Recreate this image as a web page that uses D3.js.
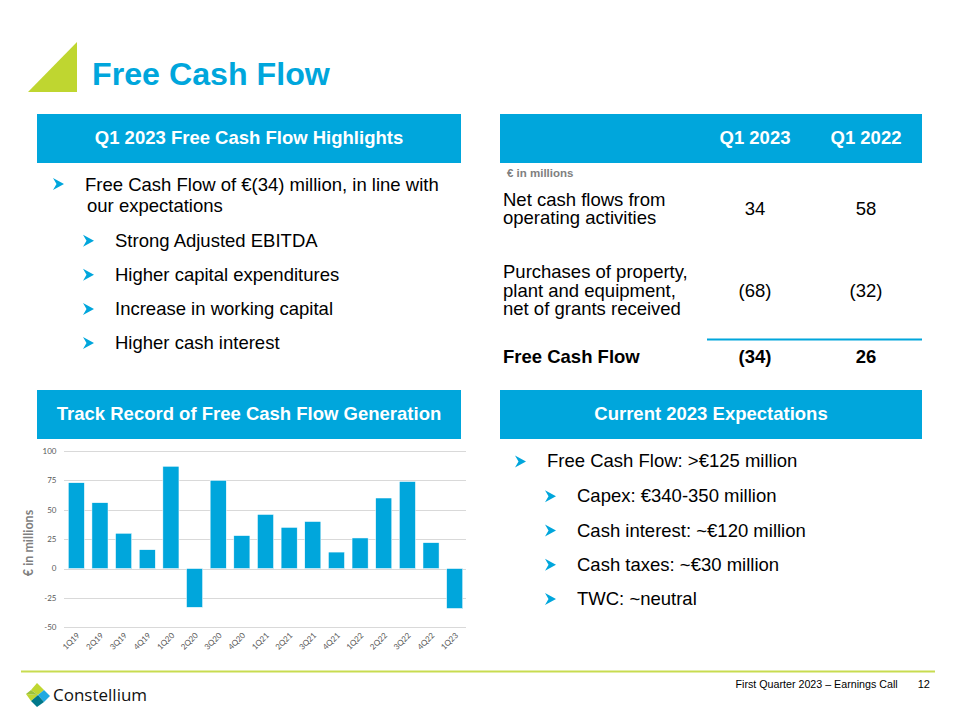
<!DOCTYPE html>
<html><head><meta charset="utf-8">
<script src="https://cdn.jsdelivr.net/npm/d3@7"></script>
<style>body{margin:0;background:#fff}svg{display:block}</style>
</head><body>
<svg id="c" width="960" height="720"></svg>
<script>
// ---- data ----
const quarters = ["1Q19","2Q19","3Q19","4Q19","1Q20","2Q20","3Q20","4Q20","1Q21","2Q21","3Q21","4Q21","1Q22","2Q22","3Q22","4Q22","1Q23"];
const fcfValues = [73,56,30,16,87,-33,75,28,46,35,40,14,26,60,74,22,-34];
const yTicks = [-50,-25,0,25,50,75,100];
const highlights = ["Strong Adjusted EBITDA","Higher capital expenditures","Increase in working capital","Higher cash interest"];
const expectations = ["Capex: €340-350 million","Cash interest: ~€120 million","Cash taxes: ~€30 million","TWC: ~neutral"];
const tableCols = ["Q1 2023","Q1 2022"];
const tableRows = [
  {label:["Net cash flows from","operating activities"], q123:"34", q122:"58"},
  {label:["Purchases of property,","plant and equipment,","net of grants received"], q123:"(68)", q122:"(32)"}
];
const tableTotal = {label:"Free Cash Flow", q123:"(34)", q122:"26"};

const BLUE = "#00A6DC", LIME = "#BFD630", F = "Liberation Sans, Arial, sans-serif";
const svg = d3.select("#c");

// title
svg.append("path").attr("d","M28,92L77,42L77,92Z").attr("fill",LIME);
svg.append("text").attr("x",92).attr("y",85).attr("font-family",F).attr("font-weight","bold")
  .attr("font-size",32.2).attr("fill",BLUE).text("Free Cash Flow");

// header boxes
function header(x,y,w,h,t){
  svg.append("rect").attr("x",x).attr("y",y).attr("width",w).attr("height",h).attr("fill",BLUE);
  if(t) svg.append("text").attr("x",x+w/2).attr("y",y+30).attr("text-anchor","middle")
    .attr("font-family",F).attr("font-weight","bold").attr("font-size",18.5).attr("fill","#fff").text(t);
}
header(37,114,424,49,"Q1 2023 Free Cash Flow Highlights");
header(500,114,422,49,null);
header(37,390,424,49,"Track Record of Free Cash Flow Generation");
header(500,390,422,49,"Current 2023 Expectations");

function arrow(x,cy){
  svg.append("path").attr("d",`M${x},${cy-6}L${x+11},${cy}L${x},${cy+6}L${x+3.5},${cy}Z`).attr("fill",BLUE);
}
function txt(x,y,s,opt={}){
  return svg.append("text").attr("x",x).attr("y",y).attr("font-family",F)
    .attr("font-size",opt.size||18.5).attr("font-weight",opt.bold?"bold":"normal")
    .attr("fill",opt.fill||"#000").attr("text-anchor",opt.anchor||"start").text(s);
}
function multi(x,y,lines,dy,xs){
  const t = svg.append("text").attr("font-family",F).attr("font-size",18.5).attr("fill","#000");
  lines.forEach((l,i)=>t.append("tspan").attr("x",xs?xs[i]:x).attr("y",y+i*dy).text(l));
  return t;
}

// highlights
arrow(53,184);
multi(85,190.5,["Free Cash Flow of €(34) million, in line with","our expectations"],21,[85,87]);
highlights.forEach((h,i)=>{const b=[246.7,280.7,315,349][i]; arrow(83,b-6); txt(115,b,h);});

// expectations
arrow(515,461.5); txt(547,467.3,"Free Cash Flow: >€125 million");
expectations.forEach((h,i)=>{const b=502.3+i*34.2; arrow(545,b-6); txt(577,b,h);});

// table
const colX = [755,866];
tableCols.forEach((c,i)=>txt(colX[i],144,c,{bold:true,fill:"#fff",anchor:"middle"}));
txt(507,176.7,"€ in millions",{size:11.5,bold:true,fill:"#808080"});
const rowBase = [205.7,278.3];
const valBase = [215,296.7];
tableRows.forEach((r,ri)=>{
  multi(503,rowBase[ri],r.label,18.4);
  txt(colX[0],valBase[ri],r.q123,{anchor:"middle"});
  txt(colX[1],valBase[ri],r.q122,{anchor:"middle"});
});
svg.append("line").attr("x1",707).attr("x2",922).attr("y1",339.5).attr("y2",339.5).attr("stroke",BLUE).attr("stroke-width",2);
txt(503,363.3,tableTotal.label,{bold:true});
txt(colX[0],363.3,tableTotal.q123,{bold:true,anchor:"middle"});
txt(colX[1],363.3,tableTotal.q122,{bold:true,anchor:"middle"});

// chart
const CF = "Lato, 'Open Sans', sans-serif";
const x = d3.scaleBand().domain(quarters).range([64.5,466.5]).paddingInner(0.32).paddingOuter(0.16);
const y = d3.scaleLinear().domain([-50,100]).range([627.3,451]);
const g = svg.append("g");
g.selectAll("line.grid").data(yTicks).join("line").attr("class","grid")
  .attr("x1",64).attr("x2",466).attr("y1",d=>Math.round(y(d))+0.5).attr("y2",d=>Math.round(y(d))+0.5)
  .attr("stroke","#D9D9D9").attr("stroke-width",1);
g.selectAll("text.yt").data(yTicks).join("text").attr("class","yt")
  .attr("x",56.5).attr("y",d=>y(d)+2.8).attr("text-anchor","end").attr("font-family",CF)
  .attr("font-size",8).attr("fill","#595959").text(d=>d);
g.selectAll("rect.bar").data(fcfValues).join("rect").attr("class","bar")
  .attr("x",(d,i)=>x(quarters[i])).attr("width",x.bandwidth())
  .attr("y",d=>y(Math.max(0,d))).attr("height",d=>Math.abs(y(d)-y(0)))
  .attr("fill",BLUE).attr("stroke","#fff").attr("stroke-width",0.5);
g.selectAll("text.xt").data(quarters).join("text").attr("class","xt")
  .attr("transform",d=>`translate(${x(d)+x.bandwidth()/2+4},${636}) rotate(-45)`)
  .attr("text-anchor","end").attr("font-family",CF).attr("font-size",8).attr("fill","#595959").text(d=>d);
svg.append("text").attr("transform","translate(33,543) rotate(-90)").attr("text-anchor","middle")
  .attr("font-family",CF).attr("font-size",12.5).attr("font-weight","bold").attr("fill","#7f7f7f").text("€ in millions");

// footer
svg.append("line").attr("x1",21).attr("x2",935).attr("y1",671.5).attr("y2",671.5).attr("stroke","#C8DC50").attr("stroke-width",2);
// logo
const logo = svg.append("g").attr("transform","translate(26,683)");
logo.append("path").attr("d","M11,0L18,7L12,12L5,7Z").attr("fill","#BFD630");
logo.append("path").attr("d","M0,11L12,12L5,18Z").attr("fill","#BFD630");
logo.append("path").attr("d","M12,12L18,7L24,13L18,19Z").attr("fill","#1FA9E1");
logo.append("path").attr("d","M5,18L12,12L18,19L11,24Z").attr("fill","#00788A");
logo.append("path").attr("d","M0,11L5,7L12,12Z").attr("fill","#9CC23A");
svg.append("text").attr("x",53).attr("y",701).attr("font-family","'Open Sans', sans-serif")
  .attr("font-size",17).attr("fill","#111").text("Constellium");
txt(897.7,688,"First Quarter 2023 – Earnings Call",{size:10.7,anchor:"end"});
txt(930,688,"12",{size:11,anchor:"end"});
</script>
</body></html>
